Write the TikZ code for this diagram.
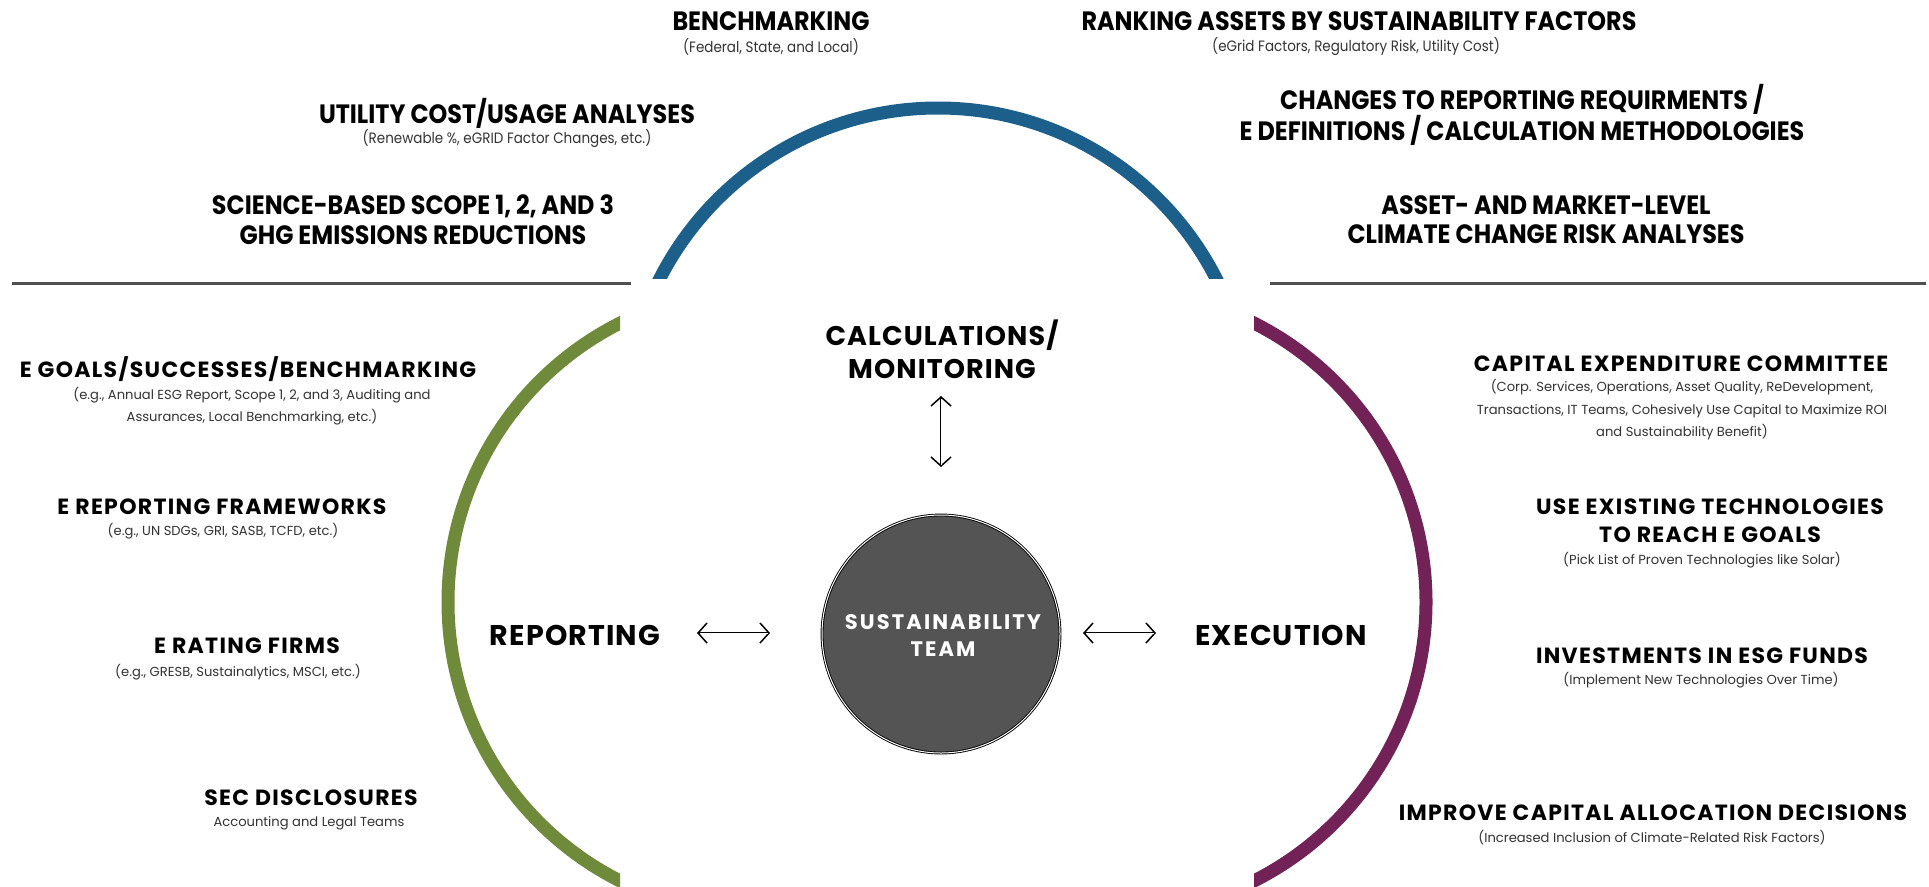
\documentclass[tikz,border=0pt]{standalone}
\usepackage{fontspec}
\setmainfont{Poppins}
\newfontfamily\headfont{Poppins}[LetterSpace=6]
\newfontfamily\bigfont{Poppins}[LetterSpace=4]
\newfontfamily\teamfont{Poppins}[LetterSpace=10]
\newfontfamily\subfont{Poppins}
\newfontfamily\narrowfont{Poppins}[FakeStretch=0.9]
\usetikzlibrary{arrows.meta}

\definecolor{arcblue}{HTML}{1B5F8A}
\definecolor{arcgreen}{HTML}{6F8A3A}
\definecolor{arcpurple}{HTML}{722256}
\definecolor{rule}{HTML}{505050}
\definecolor{teamfill}{HTML}{545454}
\definecolor{subgray}{HTML}{333333}

\tikzset{
  hd/.style={font=\headfont\bfseries\fontsize{22}{28}\selectfont, text=black, align=center, inner sep=0pt},
  hdn/.style={font=\narrowfont\bfseries\fontsize{26.5}{29.5}\selectfont, text=black, align=center, inner sep=0pt},
  big/.style={font=\bigfont\bfseries\fontsize{27}{33}\selectfont, text=black, align=center, inner sep=0pt},
  side/.style={font=\bigfont\bfseries\fontsize{28.5}{33}\selectfont, text=black, align=center, inner sep=0pt},
  sub/.style={font=\subfont\fontsize{13.1}{22.5}\selectfont, text=subgray, align=center, inner sep=0pt},
  subn/.style={font=\narrowfont\fontsize{15}{20}\selectfont, text=subgray, align=center, inner sep=0pt},
  ring/.style={line width=13pt},
  divider/.style={draw=rule, line width=3pt},
  biarrow/.style={draw=black, line width=2.6pt,
    {Straight Barb[length=9pt,width=20pt,line width=1.5pt]}-{Straight Barb[length=9pt,width=20pt,line width=1.5pt]},
    postaction={draw=white, line width=0.8pt, arrows=-, shorten <=2.5pt, shorten >=2.5pt}}
}

\begin{document}
\begin{tikzpicture}[x=1pt,y=-1pt]
\useasboundingbox (0,0) rectangle (1929,886);
\fill[white] (0,0) rectangle (1929,886);

% dividing rules
\coordinate (ruleLa) at (12,283);
\coordinate (ruleLb) at (631,283);
\coordinate (ruleRa) at (1270,283);
\coordinate (ruleRb) at (1926,283);
\draw[divider] (ruleLa) -- (ruleLb);
\draw[divider] (ruleRa) -- (ruleRb);

% the three coloured arcs
\begin{scope}
  \clip (0,0) rectangle (1929,278);
  \draw[ring, arcblue] (938,420) circle[radius=312];
\end{scope}
\begin{scope}
  \clip (0,290) rectangle (620,886);
  \draw[ring, arcgreen] (760,602) circle[radius=312];
\end{scope}
\begin{scope}
  \clip (1254,290) rectangle (1929,886);
  \draw[ring, arcpurple] (1114,602) circle[radius=312];
\end{scope}

% central team
\node[circle, minimum size=238pt, fill=teamfill, draw=black, line width=0.9pt,
      double=white, double distance=1pt, inner sep=0pt] (team) at (941,634) {};
\node[font=\teamfont\bfseries\fontsize{21}{27}\selectfont, text=white, align=center, inner sep=0pt]
  (teamtxt) at (943,636) {SUSTAINABILITY\\TEAM};

% main labels
\node[big] (calc) at (942,349) {CALCULATIONS/\\MONITORING};
\node[side] (reporting) at (575,635) {REPORTING};
\node[side] (execution) at (1281,635) {EXECUTION};

% connectors
\coordinate (calcA) at (941,396);
\coordinate (calcB) at (941,467);
\coordinate (repA) at (697,633);
\coordinate (repB) at (770,633);
\coordinate (exeA) at (1083,633);
\coordinate (exeB) at (1156,633);
\draw[biarrow] (calcA) -- (calcB);
\draw[biarrow] (repA) -- (repB);
\draw[biarrow] (exeA) -- (exeB);

% calculations / monitoring topics
\node[hdn] (bench) at (771,21) {BENCHMARKING};
\node[subn] (benchsub) at (771,47) {(Federal, State, and Local)};
\node[hdn] (rank) at (1359,21) {RANKING ASSETS BY SUSTAINABILITY FACTORS};
\node[subn] (ranksub) at (1356,47) {(eGrid Factors, Regulatory Risk, Utility Cost)};
\node[hdn] (util) at (507,113) {UTILITY COST/USAGE ANALYSES};
\node[subn] (utilsub) at (507,139) {(Renewable \%, eGRID Factor Changes, etc.)};
\node[hdn] (changes) at (1522,114.5) {CHANGES TO REPORTING REQUIRMENTS /\\E DEFINITIONS / CALCULATION METHODOLOGIES};
\node[hdn] (science) at (413,219.5) {SCIENCE-BASED SCOPE 1, 2, AND 3\\GHG EMISSIONS REDUCTIONS};
\node[hdn] (asset) at (1546,219.5) {ASSET- AND MARKET-LEVEL\\CLIMATE CHANGE RISK ANALYSES};

% reporting topics
\node[hd] (goals) at (248,369) {E GOALS/SUCCESSES/BENCHMARKING};
\node[sub] (goalssub) at (252,406) {(e.g., Annual ESG Report, Scope 1, 2, and 3, Auditing and\\Assurances, Local Benchmarking, etc.)};
\node[hd] (frame) at (222,507) {E REPORTING FRAMEWORKS};
\node[sub] (framesub) at (223,531) {(e.g., UN SDGs, GRI, SASB, TCFD, etc.)};
\node[hd] (rating) at (247,646) {E RATING FIRMS};
\node[sub] (ratingsub) at (238,672) {(e.g., GRESB, Sustainalytics, MSCI, etc.)};
\node[hd] (sec) at (311,798) {SEC DISCLOSURES};
\node[sub] (secsub) at (309,823) {Accounting and Legal Teams};

% execution topics
\node[hd] (capex) at (1681,364) {CAPITAL EXPENDITURE COMMITTEE};
\node[sub] (capexsub) at (1682,410) {(Corp. Services, Operations, Asset Quality, ReDevelopment,\\Transactions, IT Teams, Cohesively Use Capital to Maximize ROI\\and Sustainability Benefit)};
\node[hd] (tech) at (1710,521) {USE EXISTING TECHNOLOGIES\\TO REACH E GOALS};
\node[sub] (techsub) at (1702,560) {(Pick List of Proven Technologies like Solar)};
\node[hd] (invest) at (1702,656) {INVESTMENTS IN ESG FUNDS};
\node[sub] (investsub) at (1701,680) {(Implement New Technologies Over Time)};
\node[hd] (improve) at (1653,813) {IMPROVE CAPITAL ALLOCATION DECISIONS};
\node[sub] (improvesub) at (1652,838) {(Increased Inclusion of Climate-Related Risk Factors)};
\end{tikzpicture}
\end{document}
